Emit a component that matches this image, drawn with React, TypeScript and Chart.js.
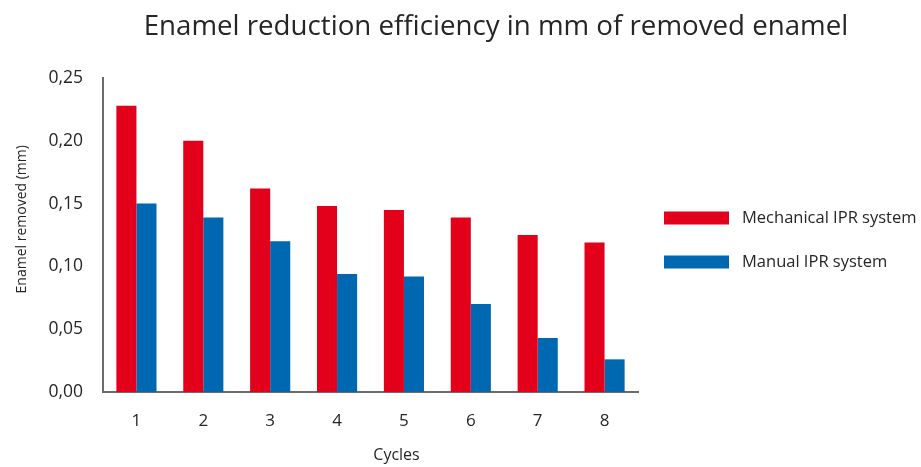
import React, { useEffect, useRef } from "react";
import { Chart, registerables } from "chart.js";

Chart.register(...registerables);

const chartTitle = "Enamel reduction efficiency in mm of removed enamel";
const xTitle = "Cycles";
const yTitle = "Enamel removed (mm)";
const cycles = ["1", "2", "3", "4", "5", "6", "7", "8"];
const mechanical = [0.228, 0.2, 0.162, 0.148, 0.145, 0.139, 0.125, 0.119];
const manual = [0.15, 0.139, 0.12, 0.094, 0.092, 0.07, 0.043, 0.026];
const seriesNames = ["Mechanical IPR system", "Manual IPR system"];
const seriesColors = ["#e2001a", "#0067b1"];

const FONT = "'Open Sans', sans-serif";
const TEXT = "#262626";

const textPlugin = {
  id: "extraText",
  afterDraw(chart: any) {
    const { ctx, chartArea } = chart;
    ctx.save();
    ctx.fillStyle = TEXT;
    ctx.textAlign = "center";
    ctx.textBaseline = "middle";
    // chart title
    ctx.font = `27.7px ${FONT}`;
    ctx.fillText(chartTitle, chart.width * 0.5385, 27);
    // x axis title
    ctx.font = `16px ${FONT}`;
    ctx.fillText(xTitle, (chartArea.left + chartArea.right) / 2 + 26, 455);
    // y axis title
    ctx.save();
    ctx.translate(22, chartArea.top + (chartArea.bottom - chartArea.top) * 0.45);
    ctx.rotate(-Math.PI / 2);
    ctx.font = `14px ${FONT}`;
    ctx.fillText(yTitle, 0, 0);
    ctx.restore();
    // legend
    const lx = chartArea.right + 26;
    const ly = 218;
    chart.data.datasets.forEach((ds: any, i: number) => {
      const cy = ly + i * 44;
      ctx.fillStyle = ds.backgroundColor;
      ctx.fillRect(lx, cy - 6.5, 65, 13);
      ctx.fillStyle = TEXT;
      ctx.textAlign = "left";
      ctx.font = `16.5px ${FONT}`;
      ctx.fillText(ds.label, lx + 78, cy);
    });
    ctx.restore();
  },
};

export default function App() {
  const ref = useRef<HTMLCanvasElement | null>(null);
  useEffect(() => {
    if (!ref.current) return;
    const chart = new Chart(ref.current, {
      type: "bar",
      data: {
        labels: cycles,
        datasets: [
          { label: seriesNames[0], data: mechanical, backgroundColor: seriesColors[0], borderWidth: 0 },
          { label: seriesNames[1], data: manual, backgroundColor: seriesColors[1], borderWidth: 0 },
        ],
      },
      plugins: [textPlugin],
      options: {
        responsive: false,
        animation: false,
        layout: { padding: { top: 78, left: 0, right: 283, bottom: 0 } },
        datasets: { bar: { barPercentage: 1, categoryPercentage: 0.6 } },
        plugins: {
          title: { display: false },
          tooltip: { enabled: false },
          legend: { display: false },
        },
        scales: {
          x: {
            grid: { display: false },
            border: { display: true, color: "#6b6b6b", width: 2 },
            ticks: { color: TEXT, font: { family: FONT, size: 17 }, padding: 11 },
            afterFit: (s: any) => {
              s.height = 75;
            },
          },
          y: {
            min: 0,
            max: 0.25,
            grid: { display: false, drawTicks: false },
            border: { display: true, color: "#6b6b6b", width: 2 },
            ticks: {
              stepSize: 0.05,
              color: TEXT,
              padding: 20,
              font: { family: FONT, size: 17.5 },
              callback: (v: any) => Number(v).toFixed(2).replace(".", ","),
            },
            afterFit: (s: any) => {
              s.width = 103;
            },
          },
        },
      },
    });
    return () => chart.destroy();
  }, []);
  return (
    <div style={{ position: "absolute", left: 0, top: 0, width: 921, height: 467, background: "#fff" }}>
      <canvas ref={ref} width={921} height={467} />
    </div>
  );
}
